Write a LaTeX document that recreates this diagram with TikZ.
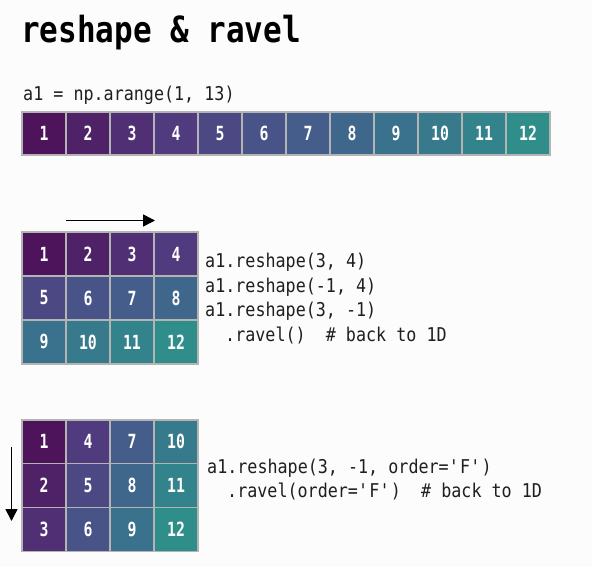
\documentclass[tikz,border=0pt]{standalone}
\usepackage{fontspec}
\usetikzlibrary{arrows.meta}
\newfontfamily\codefont{DejaVu Sans Mono}[FakeStretch=0.88]
\newfontfamily\numfont{DejaVu Sans Mono}[FakeStretch=0.76]
\newfontfamily\titlefont{DejaVu Sans Mono}[FakeStretch=0.86]
\definecolor{v1}{RGB}{68,1,84}
\definecolor{v2}{RGB}{71,17,100}
\definecolor{v3}{RGB}{72,33,114}
\definecolor{v4}{RGB}{71,47,125}
\definecolor{v5}{RGB}{67,62,132}
\definecolor{v6}{RGB}{62,75,137}
\definecolor{v7}{RGB}{57,87,140}
\definecolor{v8}{RGB}{51,99,141}
\definecolor{v9}{RGB}{46,110,142}
\definecolor{v10}{RGB}{41,121,142}
\definecolor{v11}{RGB}{37,132,142}
\definecolor{v12}{RGB}{33,144,140}
\definecolor{cellborder}{RGB}{180,180,180}
\definecolor{bgcol}{RGB}{252,252,252}
\begin{document}
\begin{tikzpicture}[x=1pt,y=-1pt,
  cell/.style={draw=cellborder, line width=1.2pt, minimum width=44pt, minimum height=44pt,
    inner sep=0pt, outer sep=0pt, text=white,
    font={\numfont\bfseries\fontsize{19.5}{19.5}\selectfont}},
  codeline/.style={anchor=base west, inner sep=0pt,
    font={\codefont\fontsize{19}{19}\selectfont}, text=black!88},
  orderarrow/.style={line width=1.6pt, -{Triangle[width=12pt,length=12pt]}}]
\fill[bgcol] (0,0) rectangle (592,567);
\useasboundingbox (0,0) rectangle (592,567);
% title
\node[anchor=base west, inner sep=0pt, font={\titlefont\bfseries\fontsize{36}{36}\selectfont}] (title) at (21,42.5) {reshape \& ravel};
% 1D array
\node[codeline] (code1) at (23,101) {a1 = np.arange(1, 13)};
\foreach \i in {1,...,12} {
  \node[cell, fill=v\i!85!gray, minimum height=43pt] (r\i) at ({22+44*(\i-0.5)},133.5) {\i};
}
% C-order grid
\foreach \r in {0,1,2} {
  \foreach \c in {1,2,3,4} {
    \pgfmathtruncatemacro{\v}{4*\r+\c}
    \node[cell, fill=v\v!85!gray] (g\v) at ({22+44*(\c-0.5)},{254+44*\r}) {\v};
  }
}
\coordinate (ha) at (66,220.5);
\coordinate (hb) at (155,220.5);
\draw[orderarrow] (ha) -- (hb);
\node[codeline] (t1) at (205,267.5) {a1.reshape(3, 4)};
\node[codeline] (t2) at (205,292) {a1.reshape(-1, 4)};
\node[codeline] (t3) at (205,316.5) {a1.reshape(3, -1)};
\node[codeline] (t4) at (225,341) {.ravel()\ \ \# back to 1D};
% F-order grid
\foreach \r in {1,2,3} {
  \foreach \c in {0,1,2,3} {
    \pgfmathtruncatemacro{\v}{3*\c+\r}
    \node[cell, fill=v\v!85!gray, minimum height=43.7pt] (f\v) at ({22+44*(\c+0.5)},{420+43.7*(\r-0.5)}) {\v};
  }
}
\coordinate (va) at (11.5,447);
\coordinate (vb) at (11.5,521);
\draw[orderarrow] (va) -- (vb);
\node[codeline] (t5) at (207,473) {a1.reshape(3, -1, order=\textquotesingle F\textquotesingle)};
\node[codeline] (t6) at (227,497) {.ravel(order=\textquotesingle F\textquotesingle)\ \ \# back to 1D};
\end{tikzpicture}
\end{document}
